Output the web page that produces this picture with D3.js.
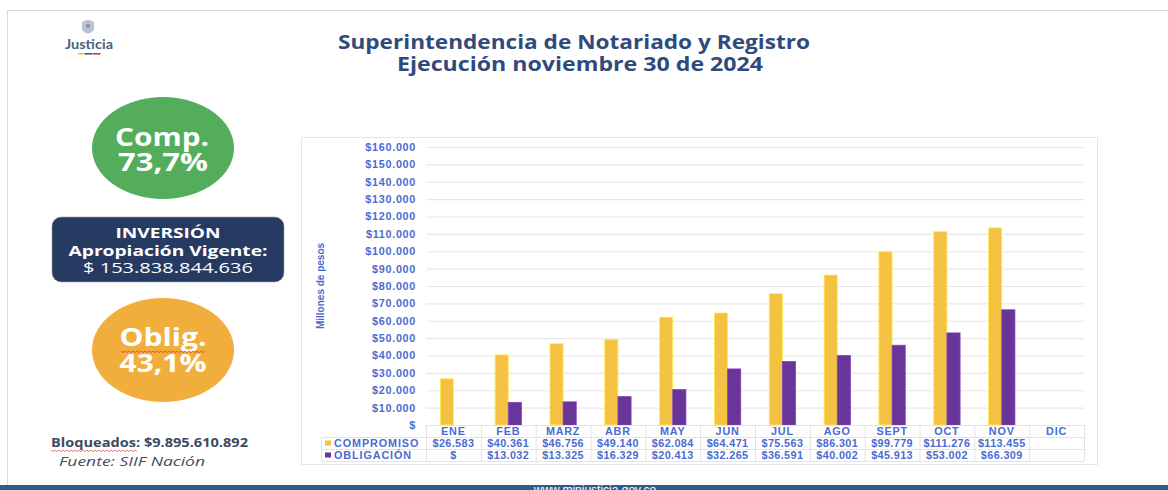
<!DOCTYPE html>
<html>
<head>
<meta charset="utf-8">
<script src="https://cdn.jsdelivr.net/npm/d3@7"></script>
<style>
  body { margin:0; background:#fff; }
</style>
</head>
<body>
<svg id="chart" width="1168" height="490" font-family="'Liberation Sans', Arial, sans-serif"></svg>
<script>
// data
const months = ["ENE","FEB","MARZ","ABR","MAY","JUN","JUL","AGO","SEPT","OCT","NOV","DIC"];
const compromiso = [26583, 40361, 46756, 49140, 62084, 64471, 75563, 86301, 99779, 111276, 113455, null];
const obligacion = [0, 13032, 13325, 16329, 20413, 32265, 36591, 40002, 45913, 53002, 66309, null];
const seriesNames = ["COMPROMISO", "OBLIGACIÓN"];
const seriesColors = ["#f5c142", "#6a3598"];
const yTicks = d3.range(0, 160001, 10000);

const svg = d3.select("#chart");
const blue = "#4a6bd2";
const fmtNum = d3.formatLocale({decimal:",", thousands:".", grouping:[3], currency:["$",""]}).format(",d");
const money = v => v == null ? "" : (v === 0 ? "$" : "$" + fmtNum(v));

// stretch a text to the width it has in the picture
const fit = (sel, w) => sel.attr("textLength", w).attr("lengthAdjust", "spacingAndGlyphs");

// page frame
svg.append("rect").attr("x",7.5).attr("y",10.5).attr("width",1200).attr("height",480)
  .attr("fill","none").attr("stroke","#d9d9d9");
svg.append("rect").attr("x",0).attr("y",485).attr("width",1168).attr("height",5).attr("fill","#2f5b8c");
svg.append("text").attr("x",595).attr("y",494).attr("text-anchor","middle")
  .attr("fill","#fff").attr("font-size",12).text("www.minjusticia.gov.co");

// logo
const logo = svg.append("g");
logo.append("path").attr("d","M82,22 Q88,18 94,22 L94,30 Q88,37 82,30 Z").attr("fill","#b9c2d0");
logo.append("circle").attr("cx",88).attr("cy",26).attr("r",2.2).attr("fill","#8e9ab0");
logo.append("text").attr("x",89).attr("y",49).attr("text-anchor","middle")
  .attr("font-family","Lato, sans-serif").attr("font-weight",700).attr("font-size",13)
  .attr("fill","#4a5f85").text("Justicia").call(fit, 48);
[["#f2c230",78],["#3056a6",85],["#d8372f",93]].forEach(([c,x])=>{
  logo.append("rect").attr("x",x).attr("y",53).attr("width",7.5).attr("height",1.6).attr("fill",c);
});

// title
const title = svg.append("g").attr("font-family","'Open Sans', sans-serif").attr("font-weight",700)
  .attr("fill","#2f4b7c").attr("font-size",19).attr("text-anchor","middle");
title.append("text").attr("x",574).attr("y",49).text("Superintendencia de Notariado y Registro").call(fit, 472);
title.append("text").attr("x",580).attr("y",71).text("Ejecución noviembre 30 de 2024").call(fit, 366);

// left panel
const wavy = (x0, x1, y) => {
  let d = `M${x0},${y}`;
  for (let x = x0, k = 0; x < x1; x += 2, k++) d += ` L${x+2},${y + (k%2 ? 0 : 1.6)}`;
  return d;
};
const left = svg.append("g").attr("font-family","'Open Sans', sans-serif").attr("font-weight",700)
  .attr("text-anchor","middle").attr("fill","#fff");
left.append("ellipse").attr("cx",163).attr("cy",148).attr("rx",71).attr("ry",51).attr("fill","#53ad5b");
left.append("text").attr("x",162).attr("y",146).attr("font-size",25.5).text("Comp.").call(fit, 94);
left.append("text").attr("x",163).attr("y",171).attr("font-size",25.5).text("73,7%").call(fit, 90);

left.append("rect").attr("x",52).attr("y",217).attr("width",232).attr("height",65).attr("rx",9)
  .attr("fill","#263a62").attr("stroke","#9aa3b5").attr("stroke-width",0.6);
left.append("text").attr("x",168).attr("y",238).attr("font-size",15).text("INVERSIÓN").call(fit, 105);
left.append("text").attr("x",168).attr("y",256).attr("font-size",15).text("Apropiación Vigente:").call(fit, 199);
left.append("text").attr("x",168).attr("y",273).attr("font-size",15).attr("font-weight",400)
  .text("$ 153.838.844.636").call(fit, 170);

left.append("ellipse").attr("cx",163).attr("cy",350).attr("rx",71).attr("ry",52).attr("fill","#f2ae3c");
left.append("text").attr("x",163).attr("y",346).attr("font-size",25.5).text("Oblig.").call(fit, 87);
left.append("path").attr("d",wavy(121,205,351)).attr("fill","none").attr("stroke","#e0403a").attr("stroke-width",0.8);
left.append("text").attr("x",163).attr("y",372).attr("font-size",25.5).text("43,1%").call(fit, 87);

svg.append("text").attr("x",51).attr("y",447).attr("font-family","'Open Sans', sans-serif")
  .attr("font-weight",700).attr("font-size",13).attr("fill","#3c4a62")
  .text("Bloqueados: $9.895.610.892").call(fit, 197);
svg.append("path").attr("d",wavy(51,136,450)).attr("fill","none").attr("stroke","#e0403a").attr("stroke-width",0.7);
svg.append("text").attr("x",59).attr("y",466).attr("font-family","'Open Sans', sans-serif")
  .attr("font-style","italic").attr("font-size",13).attr("fill","#454c5c")
  .text("Fuente: SIIF Nación").call(fit, 146);

// chart area
svg.append("rect").attr("x",301.5).attr("y",137.5).attr("width",796).attr("height",327)
  .attr("fill","#fff").attr("stroke","#e6e6e6");

const x = d3.scaleBand().domain(months).range([426,1084]).paddingInner(0.52).paddingOuter(0.26);
const step = x.step();
const xs = d3.scaleBand().domain(seriesNames).range([0, x.bandwidth()]);
const y = d3.scaleLinear().domain([0,160000]).range([425,147]);

// grid lines
svg.append("g").selectAll("line").data(yTicks.slice(1)).join("line")
  .attr("x1",426).attr("x2",1084).attr("y1",d=>y(d)+0.5).attr("y2",d=>y(d)+0.5)
  .attr("stroke","#e8e8e8").attr("stroke-width",1.2);

// y axis
const yAxis = svg.append("g").attr("transform","translate(426,0)")
  .call(d3.axisLeft(y).tickValues(yTicks).tickSize(0).tickPadding(10).tickFormat(money));
yAxis.select(".domain").remove();
yAxis.attr("font-family",null);
yAxis.selectAll("text").attr("fill",blue).attr("font-weight",700).attr("font-size",10.8)
  .attr("letter-spacing",0.7);

svg.append("text").attr("transform","translate(324,286) rotate(-90)").attr("text-anchor","middle")
  .attr("font-family","'Liberation Sans Narrow', 'Liberation Sans', sans-serif")
  .attr("font-weight",700).attr("font-size",10).attr("fill",blue).text("Millones de pesos");

// bars
const series = [compromiso, obligacion];
series.forEach((vals, si) => {
  const edge = d3.color(seriesColors[si]).brighter(0.6);
  svg.append("g").selectAll("rect").data(months.map((m,i)=>({m, v: vals[i]})).filter(d=>d.v))
    .join("rect")
    .attr("x", d => x(d.m) + xs(seriesNames[si]))
    .attr("width", xs.bandwidth())
    .attr("y", d => y(d.v))
    .attr("height", d => y(0) - y(d.v))
    .attr("fill", seriesColors[si])
    .attr("stroke", edge).attr("stroke-width",0.8);
});

// data table
const rowY = [425, 437, 449, 461];
const tbl = svg.append("g");
tbl.selectAll("line.v").data(d3.range(13)).join("line")
  .attr("x1", i => 426 + i*step + 0.5).attr("x2", i => 426 + i*step + 0.5)
  .attr("y1", rowY[0]).attr("y2", rowY[3]).attr("stroke","#e3e3e3");
tbl.selectAll("line.h").data(rowY).join("line")
  .attr("x1", (d,i) => i === 0 ? 426 : 321).attr("x2", 1084)
  .attr("y1", d => d + 0.5).attr("y2", d => d + 0.5).attr("stroke","#e3e3e3");
tbl.append("line").attr("x1",321.5).attr("x2",321.5).attr("y1",rowY[1]).attr("y2",rowY[3]).attr("stroke","#e3e3e3");

const cellText = (g) => g.attr("fill",blue).attr("font-weight",700).attr("font-size",10.8)
  .attr("text-anchor","middle").attr("letter-spacing",0.4);
tbl.append("g").call(cellText).selectAll("text").data(months).join("text")
  .attr("x", m => x(m) + x.bandwidth()/2).attr("y", rowY[0] + 9.5).attr("letter-spacing",0.8).text(m => m);
series.forEach((vals, si) => {
  tbl.append("g").call(cellText).selectAll("text").data(months).join("text")
    .attr("x", m => x(m) + x.bandwidth()/2).attr("y", rowY[si+1] + 9.5)
    .text((m,i) => money(vals[i]));
  tbl.append("rect").attr("x",325).attr("y",rowY[si+1]+3.5).attr("width",6).attr("height",5)
    .attr("fill",seriesColors[si]);
  tbl.append("text").attr("x",334).attr("y",rowY[si+1]+9.5).attr("fill",blue)
    .attr("font-weight",700).attr("font-size",10.8).attr("letter-spacing",0.9)
    .text(seriesNames[si]);
});
</script>
</body>
</html>
